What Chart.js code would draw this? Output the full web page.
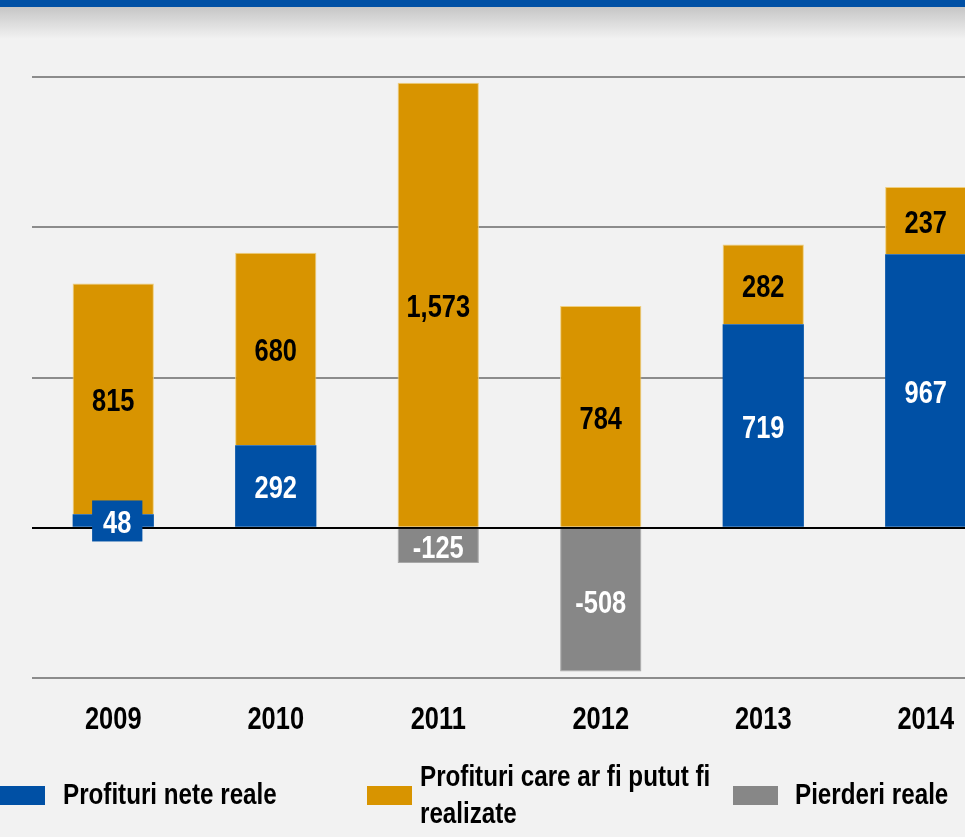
<!DOCTYPE html>
<html>
<head>
<meta charset="utf-8">
<script src="https://cdn.jsdelivr.net/npm/chart.js@4/dist/chart.umd.min.js"></script>
<style>
  html,body{margin:0;padding:0;background:#f2f2f2;overflow:hidden;width:965px;height:837px;}
  #band{position:absolute;left:0;top:0;width:965px;height:7px;background:#0050a5;z-index:3;}
  #shadow{position:absolute;left:0;top:7px;width:965px;height:32px;background:linear-gradient(#c6c6c6,#f2f2f2);z-index:0;}
  #wrap{position:absolute;left:0;top:0;width:1010px;height:837px;z-index:1;}
  .lg{position:absolute;z-index:2;font-weight:bold;color:#000;font-size:29.5px;line-height:37px;white-space:nowrap;
      font-family:'Liberation Sans', Arial, sans-serif;transform:scaleX(0.82);transform-origin:0 0;}
  .sw{position:absolute;z-index:2;width:45px;height:19px;top:786px;}
</style>
</head>
<body>
<div id="band"></div>
<div id="shadow"></div>
<div id="wrap"><canvas id="c"></canvas></div>
<div class="sw" style="left:0;background:#0050a5"></div>
<div class="lg" style="left:63px;top:775px;">Profituri nete reale</div>
<div class="sw" style="left:367px;background:#d89400"></div>
<div class="lg" style="left:420px;top:757px;">Profituri care ar fi putut fi<br>realizate</div>
<div class="sw" style="left:733px;background:#878787"></div>
<div class="lg" style="left:795px;top:775px;">Pierderi reale</div>
<script>
const categories = ["2009","2010","2011","2012","2013","2014"];
const seriesNames = ["Profituri nete reale","Profituri care ar fi putut fi realizate","Pierderi reale"];
const netProfit = [48, 292, null, null, 719, 967];
const potentialProfit = [815, 680, 1573, 784, 282, 237];
const realLoss = [null, null, -125, -508, null, null];
const yTicks = [-531, 0, 531, 1062, 1593];

const FONT = "'Liberation Sans', Arial, sans-serif";
const SX = 0.82;
const fmt = v => v.toLocaleString('en-US');

function narrowText(ctx, t, x, y){
  ctx.save();
  ctx.translate(x, y);
  ctx.scale(SX, 1);
  ctx.fillText(t, 0, 0);
  ctx.restore();
}

const labelPlugin = {
  id:'segLabels',
  afterDatasetsDraw(chart){
    const ctx = chart.ctx;
    ctx.save();
    ctx.font = 'bold 31px ' + FONT;
    ctx.textAlign='center'; ctx.textBaseline='middle';
    chart.data.datasets.forEach((ds,di)=>{
      const meta = chart.getDatasetMeta(di);
      meta.data.forEach((bar,i)=>{
        const v = ds.data[i];
        if (v===null || v===undefined) return;
        const cy = (bar.y + bar.base)/2 + 4;
        const h = Math.abs(bar.base - bar.y);
        const t = fmt(v);
        if (h < 30) {
          const w = ctx.measureText(t).width*SX + 22;
          ctx.fillStyle = ds.backgroundColor;
          ctx.fillRect(bar.x - w/2 + 4, cy - 24, w, 41);
          ctx.fillStyle = ds.labelColor;
          narrowText(ctx, t, bar.x + 4, cy);
        } else {
          ctx.fillStyle = ds.labelColor;
          narrowText(ctx, t, bar.x, cy);
        }
      });
    });
    const xs = chart.scales.x;
    ctx.fillStyle = '#000';
    categories.forEach((c,i)=>{
      narrowText(ctx, c, xs.getPixelForValue(i), chart.chartArea.bottom + 42);
    });
    ctx.restore();
  }
};

new Chart(document.getElementById('c'), {
  type:'bar',
  data:{
    labels: categories,
    datasets:[
      {label:seriesNames[0], data:netProfit, backgroundColor:'#0050a5', labelColor:'#ffffff', borderWidth:0},
      {label:seriesNames[1], data:potentialProfit, backgroundColor:'#d89400', borderColor:'#f0cf7e', borderWidth:1, labelColor:'#000000'},
      {label:seriesNames[2], data:realLoss, backgroundColor:'#878787', borderColor:'#a8a8a8', borderWidth:1, labelColor:'#ffffff'}
    ]
  },
  options:{
    responsive:true, maintainAspectRatio:false, animation:false,
    layout:{padding:{top:77, left:32, right:3, bottom:99}},
    plugins:{legend:{display:false}, tooltip:{enabled:false}},
    datasets:{bar:{barPercentage:0.5, categoryPercentage:1.0}},
    scales:{
      x:{stacked:true, grid:{display:false, drawTicks:false}, border:{display:false},
         ticks:{display:false},
         afterFit(s){ s.height = 60; }},
      y:{stacked:true, min:yTicks[0], max:yTicks[yTicks.length-1],
         afterBuildTicks(s){ s.ticks = yTicks.map(v=>({value:v})); },
         afterFit(s){ s.width = 0; },
         ticks:{display:false},
         border:{display:false},
         grid:{drawTicks:false, lineWidth:2, color:(c)=> c.tick && c.tick.value===0 ? '#000000' : '#8c8c8c'}}
    }
  },
  plugins:[labelPlugin]
});
</script>
</body>
</html>
